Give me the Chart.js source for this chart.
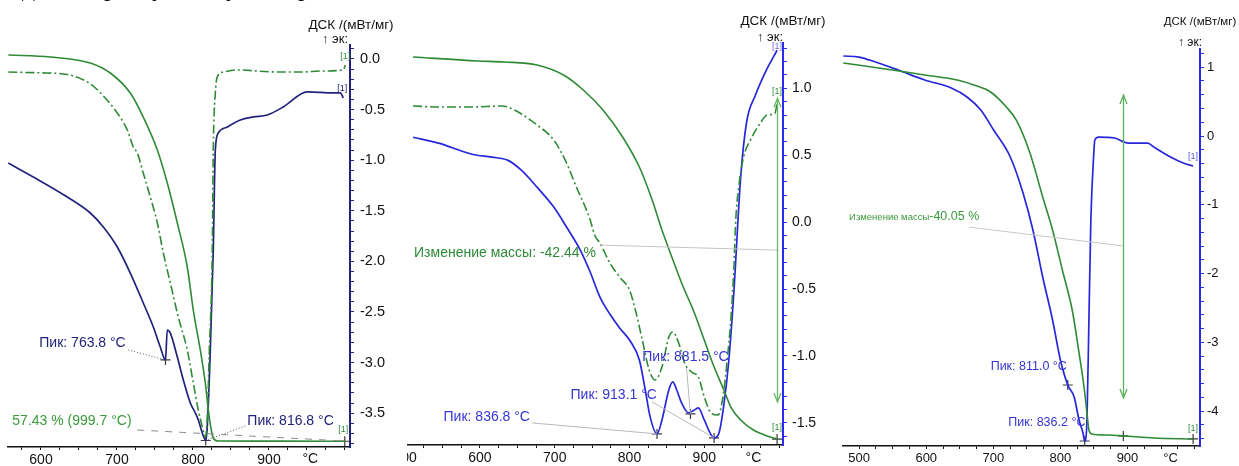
<!DOCTYPE html>
<html><head><meta charset="utf-8">
<script src="https://cdn.jsdelivr.net/npm/chart.js@4.4.1/dist/chart.umd.min.js"></script>
<style>
html,body{margin:0;padding:0;background:#fff;width:1239px;height:466px;overflow:hidden;position:relative;font-family:'Liberation Sans',Arial,sans-serif}
.pane{position:absolute;top:0;height:466px;overflow:hidden}
.pane canvas{position:absolute;top:0}
.cut{position:absolute;top:-25px;font-family:'Liberation Serif','Times New Roman',serif;font-size:26px;line-height:26px;color:#000}
</style></head><body>
<div class="pane" style="left:0;width:405px"><canvas id="c1" width="405" height="466" style="left:0;width:405px;height:466px"></canvas></div>
<div class="pane" style="left:407px;width:430px"><canvas id="c2" width="438" height="466" style="left:-8px;width:438px;height:466px"></canvas></div>
<div class="pane" style="left:837px;width:402px"><canvas id="c3" width="402" height="466" style="left:0;width:402px;height:466px"></canvas></div>
<div class="cut" style="left:22px">д</div>
<div class="cut" style="left:104px">р</div>
<div class="cut" style="left:152px">у</div>
<div class="cut" style="left:226px">у</div>
<div class="cut" style="left:298px">р</div>
<script>
// ---------- Panel 1 ----------
const p1TgT  = [557, 612.3, 664.9, 691.2, 717.5, 734.6, 753.1, 766.2, 779.4, 792.5, 800.4, 809.6, 816.2, 820.2, 824.1, 826.7, 833.3, 914.9, 999.7];
const p1TgV  = [99.90, 99.68, 99.02, 97.92, 95.72, 93.08, 89.46, 85.83, 81.43, 76.59, 71.86, 67.47, 63.84, 60.87, 58.67, 57.79, 57.46, 57.45, 57.43];
const p1DtgT = [557, 600, 634.6, 664.9, 682, 700.4, 713.6, 721.5, 726.7, 734.6, 743.8, 753.1, 761, 770.2, 780.7, 792.5, 800.4, 807, 812.3, 816.2, 818.8, 821.5, 825.4, 826.7, 829.4, 833.3, 839.9, 858.3, 900, 941.2, 970, 997.8, 1000.4];
const p1DtgV = [-0.01, -0.04, -0.10, -0.45, -0.90, -1.54, -2.17, -2.81, -3.03, -3.78, -4.67, -5.64, -6.76, -7.88, -9.15, -10.38, -11.61, -12.62, -13.25, -13.63, -12.88, -10.38, -6.65, -2.92, -0.79, -0.12, -0.01, 0.07, 0.0, -0.01, 0.03, 0.07, 0.25];
const p1DscT = [557, 589.9, 634.6, 664.9, 682, 700.4, 717.5, 734.6, 747.8, 757, 763.8, 766.2, 770.2, 779.4, 787.3, 796.5, 803.1, 807, 812.3, 816.8, 818.8, 822.8, 826.7, 829.4, 833.3, 845.2, 862.3, 879.4, 897.8, 918.8, 950.4, 984.6, 993.8, 997.8];
const p1DscV = [-1.028, -1.166, -1.364, -1.522, -1.660, -1.858, -2.115, -2.411, -2.648, -2.846, -2.974, -2.678, -2.708, -2.945, -3.172, -3.399, -3.498, -3.567, -3.696, -3.77, -3.636, -2.875, -1.887, -0.899, -0.731, -0.672, -0.603, -0.573, -0.553, -0.474, -0.326, -0.336, -0.336, -0.385];
const p1PeakT = [763.8, 816.8];
const p1PeakV = [-2.974, -3.77];
const p1XLabels = [600, 700, 800, 900];
const p1YLabels = [0.0, -0.5, -1.0, -1.5, -2.0, -2.5, -3.0, -3.5];

// ---------- Panel 2 ----------
const p2TgT  = [510.5, 597.4, 632.9, 676.3, 711.8, 738.2, 764.5, 790.8, 813.2, 830.3, 843.4, 856.6, 869.7, 886.8, 900, 913.2, 926.3, 935.5, 948.7, 965.8, 984.2, 997.4];
const p2TgV  = [100.0, 99.56, 99.45, 99.12, 98.00, 96.34, 94.12, 91.12, 87.78, 84.12, 80.78, 77.78, 74.90, 71.56, 68.56, 65.56, 63.01, 61.12, 59.67, 58.56, 57.90, 57.56];
const p2DtgT = [510.5, 544.7, 589.5, 628.9, 646.1, 676.3, 698.7, 715.8, 728.9, 740.8, 747.4, 753.9, 760.5, 773.7, 786.8, 800, 807.9, 817.1, 826.3, 834.2, 843.4, 852.6, 857.9, 865.8, 873.7, 882.9, 892.1, 900, 909.2, 918.4, 925, 930.3, 935.5, 939.5, 942.1, 946.1, 952.6, 961.8, 975, 984.2, 994.7, 997.4];
const p2DtgV = [0.09, 0.067, 0.067, 0.09, 0.0, -0.336, -0.672, -1.187, -1.724, -2.172, -2.463, -2.821, -2.978, -3.425, -3.739, -4.030, -4.478, -5.149, -5.821, -6.045, -5.754, -5.082, -4.970, -5.216, -5.664, -5.866, -5.978, -6.425, -6.784, -6.828, -6.425, -5.664, -4.701, -3.582, -2.463, -1.724, -1.052, -0.672, -0.291, -0.112, -0.067, 0.157];
const p2DscT = [510.5, 544.7, 589.5, 615.8, 636.8, 655.3, 676.3, 698.7, 715.8, 734.2, 747.4, 760.5, 773.7, 786.8, 800, 813.2, 821.1, 827.6, 836.8, 843.4, 852.6, 857.9, 863.2, 869.7, 878.9, 886.8, 892.1, 900, 909.2, 913.1, 919.7, 925.8, 932.9, 939.5, 948.7, 956.6, 968.4, 981.6, 997.4];
const p2DscV = [0.634, 0.590, 0.507, 0.485, 0.463, 0.388, 0.261, 0.112, -0.037, -0.209, -0.373, -0.560, -0.687, -0.791, -0.881, -1.030, -1.254, -1.455, -1.582, -1.478, -1.254, -1.194, -1.254, -1.351, -1.425, -1.403, -1.388, -1.478, -1.590, -1.612, -1.575, -1.381, -1.030, -0.530, 0.336, 0.746, 0.948, 1.119, 1.284];
const p2PeakT = [836.8, 881.5, 913.1];
const p2PeakV = [-1.582, -1.433, -1.612];
const p2XLabels = [500, 600, 700, 800, 900];
const p2YLabels = [1.0, 0.5, 0.0, -0.5, -1.0, -1.5];

// ---------- Panel 3 ----------
const p3TgT  = [476.2, 549.5, 597.8, 646.2, 671.1, 696, 719.4, 734.1, 754.6, 773.6, 788.3, 802.9, 817.6, 827.8, 835.2, 839.6, 842.5, 846.9, 871.8, 895.2, 939.2, 997.8];
const p3TgV  = [100.0, 99.25, 98.72, 98.19, 97.66, 96.91, 95.31, 93.93, 90.41, 85.73, 82.21, 77.95, 73.69, 69.11, 65.49, 62.72, 60.90, 60.48, 60.37, 60.27, 60.05, 59.95];
const p3DscT = [476.2, 499.6, 524.5, 558.2, 597.8, 637.4, 660.8, 681.3, 700.4, 725.3, 744.3, 759, 773.6, 788.3, 800, 811.0, 820.5, 827.8, 833.7, 836.2, 839.6, 842.5, 845.4, 849.8, 851.3, 857.1, 880.6, 901.1, 930.4, 939.2, 964.1, 983.2, 997.8];
const p3DscV = [1.163, 1.148, 1.076, 0.959, 0.814, 0.698, 0.567, 0.378, 0.087, -0.305, -0.828, -1.366, -2.049, -2.674, -3.256, -3.619, -3.794, -4.128, -4.317, -4.433, -4.128, -2.674, -1.221, -0.247, -0.058, -0.015, -0.029, -0.102, -0.102, -0.160, -0.305, -0.392, -0.436];
const p3PeakT = [811.0, 836.2];
const p3PeakV = [-3.619, -4.433];
const p3XLabels = [500, 600, 700, 800, 900];
const p3YLabels = [1, 0, -1, -2, -3, -4];

// ---------- styles ----------
const FONT = "'Liberation Sans', Arial, sans-serif";
const GREEN = '#2f8a36';
const NAVY = '#22227c';
const BLUE = '#2727da';
const AXBLUE = '#2b2bea';
const TXTBLUE = '#3535d2';
const DASHDOT = [9, 3, 2, 3];

const pts = (xs, ys) => xs.map((x, i) => ({x: x, y: ys[i]}));
const near = (arr, v) => arr.some(m => Math.abs(m - v) < 1e-6);

function stepTicks(step) {
  return function (scale) {
    const a = Math.ceil(scale.min / step - 1e-9), b = Math.floor(scale.max / step + 1e-9);
    const out = [];
    for (let k = a; k <= b; k++) out.push({value: +(k * step).toFixed(6)});
    scale.ticks = out;
  };
}

const annotPlugin = {
  id: 'annot',
  afterDatasetsDraw(chart, args, o) {
    const ctx = chart.ctx, sx = chart.scales.x, ca = chart.chartArea;
    const X = v => sx.getPixelForValue(v);
    const Y = (v, ax) => chart.scales[ax || 'y'].getPixelForValue(v);
    ctx.save();
    (o.lines || []).forEach(l => {
      ctx.beginPath();
      ctx.strokeStyle = l.color; ctx.lineWidth = l.width || 1;
      ctx.setLineDash(l.dash || []);
      ctx.moveTo(X(l.x1), Y(l.y1)); ctx.lineTo(X(l.x2), Y(l.y2)); ctx.stroke();
    });
    ctx.setLineDash([]);
    (o.arrows || []).forEach(a => {
      const x = Math.round(X(a.x)) + 0.5, y1 = Y(a.y1), y2 = Y(a.y2);
      ctx.strokeStyle = a.color; ctx.lineWidth = 1.3;
      ctx.beginPath(); ctx.moveTo(x, y1); ctx.lineTo(x, y2); ctx.stroke();
      ctx.beginPath();
      ctx.moveTo(x - 3.5, y1 + 9); ctx.lineTo(x, y1); ctx.lineTo(x + 3.5, y1 + 9);
      ctx.moveTo(x - 3.5, y2 - 9); ctx.lineTo(x, y2); ctx.lineTo(x + 3.5, y2 - 9);
      ctx.stroke();
    });
    ctx.textBaseline = 'middle';
    (o.texts || []).forEach(t => {
      let x = X(t.x); const y = Y(t.y, t.axis);
      const parts = t.parts || [{t: t.t, size: t.size}];
      if (t.align === 'center') {
        ctx.font = parts[0].size + 'px ' + FONT;
        x -= ctx.measureText(parts[0].t).width / 2;
      }
      ctx.textAlign = 'left';
      parts.forEach(p => {
        ctx.font = p.size + 'px ' + FONT;
        ctx.fillStyle = t.color;
        ctx.fillText(p.t, x, y);
        x += ctx.measureText(p.t).width;
      });
    });
    (o.frame || []).forEach(t => {
      ctx.font = t.size + 'px ' + FONT;
      ctx.fillStyle = t.color || '#111';
      ctx.textAlign = t.align || 'center';
      ctx.textBaseline = 'middle';
      const x = t.xv !== undefined ? X(t.xv) : ca.right + t.dx;
      const y = t.bottom ? ca.bottom + t.dy : ca.top + t.dy;
      ctx.fillText(t.t, x, y);
    });
    ctx.restore();
  }
};

function makeChart(id, c) {
  const datasets = c.series.map(s => ({
    data: pts(s.t, s.v), yAxisID: s.axis, borderColor: s.color, borderWidth: s.width || 1.6,
    borderDash: s.dash || [], showLine: true, pointRadius: 0, fill: false,
    cubicInterpolationMode: 'monotone'
  }));
  c.markers.forEach(m => datasets.push({
    data: pts(m.t, m.v), yAxisID: m.axis, showLine: false, pointStyle: 'cross',
    pointRadius: 5, borderColor: '#3a3a3a', borderWidth: 1.2, backgroundColor: '#3a3a3a'
  }));
  const scales = {
    x: {
      type: 'linear', position: 'bottom', min: c.xMin, max: c.xMax,
      border: {display: true, color: '#111', width: 1.5},
      grid: {display: true, drawOnChartArea: false, drawTicks: true, tickLength: 3, color: '#111', tickColor: '#111', tickWidth: 1},
      ticks: {autoSkip: false, maxRotation: 0, minRotation: 0, padding: 2, color: '#111',
        font: {family: FONT, size: c.xFont},
        callback: v => near(c.xLabels, v) ? String(Math.round(v)) : ''},
      afterBuildTicks: stepTicks(25),
      afterFit: s => { s.height = c.xH; s.paddingLeft = 0; s.paddingRight = 0; }
    },
    y: {
      type: 'linear', position: 'right', min: c.yMin, max: c.yMax,
      border: {display: true, color: c.axColor, width: 2},
      grid: {display: true, drawOnChartArea: false, drawTicks: true, tickLength: c.tickLen, color: c.axColor, tickColor: c.axColor, tickWidth: 1},
      ticks: {autoSkip: false, padding: c.yPad, color: '#111', font: {family: FONT, size: c.yFont},
        callback: v => near(c.yLabels, v) ? v.toFixed(c.yDec) : ''},
      afterBuildTicks: stepTicks(c.yStep),
      afterFit: s => { s.width = c.yW; s.paddingTop = 0; s.paddingBottom = 0; }
    },
    yTG: {type: 'linear', display: false, min: c.tgMin, max: c.tgMax}
  };
  if (c.dtgMin !== undefined) scales.yDTG = {type: 'linear', display: false, min: c.dtgMin, max: c.dtgMax};
  return new Chart(document.getElementById(id), {
    type: 'scatter',
    data: {datasets},
    options: {
      responsive: false, animation: false, devicePixelRatio: 1,
      layout: {padding: {left: c.padL, top: c.padT, right: 0, bottom: 0}},
      plugins: {legend: {display: false}, tooltip: {enabled: false}, annot: c.annot},
      scales
    },
    plugins: [annotPlugin]
  });
}

makeChart('c1', {
  xMin: 556.6, xMax: 1006.6, yMin: -3.834, yMax: 0.138, tgMin: 56.8, tgMax: 101, dtgMin: -14, dtgMax: 1,
  xLabels: p1XLabels, yLabels: p1YLabels, yStep: 0.1, yDec: 1,
  padL: 8, padT: 45, xH: 19, yW: 55, axColor: NAVY, tickLen: 4, yPad: 6, xFont: 14, yFont: 14.5,
  series: [
    {t: p1TgT, v: p1TgV, axis: 'yTG', color: GREEN},
    {t: p1DtgT, v: p1DtgV, axis: 'yDTG', color: GREEN, dash: DASHDOT},
    {t: p1DscT, v: p1DscV, axis: 'y', color: NAVY, width: 1.7}
  ],
  markers: [{t: p1PeakT, v: p1PeakV, axis: 'y'}, {t: [999.7], v: [57.43], axis: 'yTG'}],
  annot: {
    lines: [
      {x1: 714.9, y1: -2.875, x2: 763.8, y2: -2.974, color: '#555', dash: [1, 2]},
      {x1: 868.8, y1: -3.626, x2: 816.8, y2: -3.77, color: '#555', dash: [1, 2]},
      {x1: 726.7, y1: -3.666, x2: 999.7, y2: -3.775, color: '#8a8a8a', dash: [7, 7]}
    ],
    texts: [
      {t: 'Пик: 763.8 °C', x: 597.8, y: -2.806, color: NAVY, size: 14},
      {t: 'Пик: 816.8 °C', x: 871.5, y: -3.577, color: NAVY, size: 14},
      {t: '57.43 % (999.7 °C)', x: 562.3, y: -3.577, color: '#3a9a3a', size: 14},
      {t: '[1]', x: 1000.4, y: 0.02, color: GREEN, size: 9, align: 'center'},
      {t: '[1]', x: 996.5, y: -0.296, color: NAVY, size: 9, align: 'center'},
      {t: '[1]', x: 997.8, y: -3.666, color: GREEN, size: 9, align: 'center'}
    ],
    frame: [
      {t: 'ДСК /(мВт/мг)', dx: 1, dy: -20, size: 13.5},
      {t: '↑ эк:', dx: -2, dy: -6, size: 13, align: 'right'},
      {t: '°C', xv: 954.4, bottom: true, dy: 12, size: 14}
    ]
  }
});

makeChart('c2', {
  xMin: 500, xMax: 1005.3, yMin: -1.665, yMax: 1.338, tgMin: 56.9, tgMax: 101.56, dtgMin: -7.5, dtgMax: 1.5,
  xLabels: p2XLabels, yLabels: p2YLabels, yStep: 0.1, yDec: 1,
  padL: 0, padT: 43, xH: 21, yW: 54, axColor: AXBLUE, tickLen: 4, yPad: 5, xFont: 14, yFont: 14,
  series: [
    {t: p2TgT, v: p2TgV, axis: 'yTG', color: GREEN},
    {t: p2DtgT, v: p2DtgV, axis: 'yDTG', color: GREEN, dash: DASHDOT},
    {t: p2DscT, v: p2DscV, axis: 'y', color: BLUE, width: 1.7}
  ],
  markers: [{t: p2PeakT, v: p2PeakV, axis: 'y'}, {t: [997.4], v: [57.56], axis: 'yTG'}],
  annot: {
    lines: [
      {x1: 761.8, y1: -0.172, x2: 997.4, y2: -0.209, color: '#c4c4c4'},
      {x1: 669.7, y1: -1.5, x2: 836.8, y2: -1.582, color: '#b8b8b8'},
      {x1: 830.3, y1: -1.343, x2: 913.1, y2: -1.612, color: '#b8b8b8'},
      {x1: 876.3, y1: -1.09, x2: 881.5, y2: -1.433, color: '#b8b8b8'}
    ],
    arrows: [{x: 997.4, y1: 0.925, y2: -1.343, color: '#66b866'}],
    texts: [
      {t: 'Изменение массы: -42.44 %', x: 511.8, y: -0.231, color: GREEN, size: 14},
      {t: 'Пик: 836.8 °C', x: 551.3, y: -1.455, color: TXTBLUE, size: 14},
      {t: 'Пик: 913.1 °C', x: 721.1, y: -1.291, color: TXTBLUE, size: 14},
      {t: 'Пик: 881.5 °C', x: 817.1, y: -1.007, color: TXTBLUE, size: 14},
      {t: '[1]', x: 997.4, y: 1.31, color: '#6b6bd8', size: 9, align: 'center'},
      {t: '[1]', x: 997.4, y: 0.975, color: GREEN, size: 9, align: 'center'},
      {t: '[1]', x: 997.4, y: -1.537, color: GREEN, size: 9, align: 'center'}
    ],
    frame: [
      {t: 'ДСК /(мВт/мг)', dx: 0, dy: -22, size: 13.5},
      {t: '↑ эк:', dx: 0, dy: -6, size: 13, align: 'right'},
      {t: '°C', xv: 965.8, bottom: true, dy: 13, size: 14}
    ]
  }
});

makeChart('c3', {
  xMin: 476.2, xMax: 1008.1, yMin: -4.506, yMax: 1.265, tgMin: 59.20, tgMax: 101.49,
  xLabels: p3XLabels, yLabels: p3YLabels, yStep: 0.2, yDec: 0,
  padL: 0, padT: 49, xH: 20, yW: 39, axColor: AXBLUE, tickLen: 4, yPad: 3, xFont: 13, yFont: 13,
  series: [
    {t: p3TgT, v: p3TgV, axis: 'yTG', color: GREEN},
    {t: p3DscT, v: p3DscV, axis: 'y', color: BLUE, width: 1.7}
  ],
  markers: [{t: p3PeakT, v: p3PeakV, axis: 'y'}, {t: [893.8, 997.8], v: [60.27, 59.95], axis: 'yTG'}],
  annot: {
    lines: [
      {x1: 663.7, y1: -1.323, x2: 893.8, y2: -1.599, color: '#c8c8c8'}
    ],
    arrows: [{x: 893.8, y1: 0.596, y2: -3.808, color: '#5caf5c'}],
    texts: [
      {parts: [{t: 'Изменение массы', size: 9.5}, {t: '-40.05 %', size: 12.5}], x: 485, y: -1.177, color: '#3a9a3a'},
      {t: 'Пик: 811.0 °C', x: 696, y: -3.358, color: TXTBLUE, size: 12.5},
      {t: 'Пик: 836.2 °C', x: 722.3, y: -4.172, color: TXTBLUE, size: 12.5},
      {t: '[1]', x: 997.8, y: -4.259, color: GREEN, size: 9, align: 'center'},
      {t: '[1]', x: 997.8, y: -0.291, color: '#5b5bd6', size: 9, align: 'center'}
    ],
    frame: [
      {t: 'ДСК /(мВт/мг)', dx: 0, dy: -27, size: 11.5},
      {t: '↑ эк:', dx: 2, dy: -6, size: 12, align: 'right'},
      {t: '°C', xv: 964.1, bottom: true, dy: 12, size: 13}
    ]
  }
});
</script>
</body></html>
